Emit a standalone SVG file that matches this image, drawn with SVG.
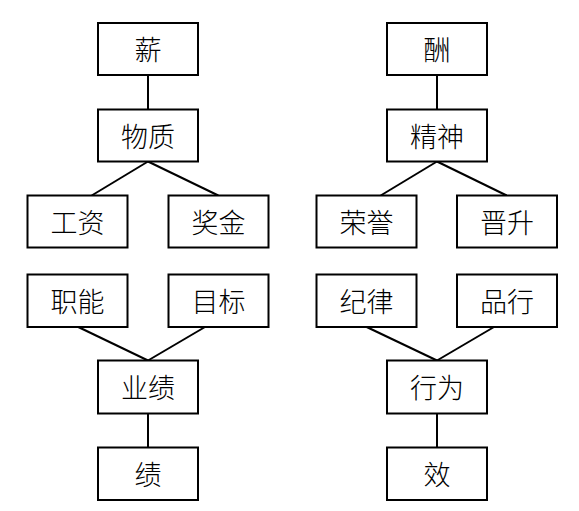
<svg xmlns="http://www.w3.org/2000/svg" width="579" height="511" viewBox="0 0 579 511">
<style>
.n rect{fill:#fff;stroke:#000;stroke-width:2}
.n text{font-family:"Noto Sans CJK SC",sans-serif;font-size:27px;font-weight:300;fill:#000;text-anchor:middle}
#edges line{stroke:#000;stroke-width:2}
</style>
<rect width="579" height="511" fill="#fff"/>
<g id="edges">
<line x1="148" y1="75" x2="148" y2="109"/>
<line x1="148" y1="161.5" x2="91.7" y2="195.5"/>
<line x1="148" y1="161.5" x2="218.3" y2="195.5"/>
<line x1="78.3" y1="327" x2="148" y2="360.5"/>
<line x1="205" y1="327" x2="148" y2="360.5"/>
<line x1="148" y1="413.5" x2="148" y2="447.5"/>
<line x1="437" y1="75" x2="437" y2="109"/>
<line x1="437" y1="161.5" x2="380.7" y2="195.5"/>
<line x1="437" y1="161.5" x2="506.7" y2="195.5"/>
<line x1="366.7" y1="327" x2="437" y2="360.5"/>
<line x1="494" y1="327" x2="437" y2="360.5"/>
<line x1="437" y1="413.5" x2="437" y2="447.5"/>
</g>
<g id="n1" class="n"><rect x="98" y="23" width="100" height="52"/><text x="148" y="60">薪</text></g>
<g id="n2" class="n"><rect x="98" y="109.5" width="100" height="52"/><text x="148" y="146.5">物质</text></g>
<g id="n3" class="n"><rect x="27.5" y="195.5" width="100" height="52"/><text x="77.5" y="232.5">工资</text></g>
<g id="n4" class="n"><rect x="168.5" y="195.5" width="100" height="52"/><text x="218.5" y="232.5">奖金</text></g>
<g id="n5" class="n"><rect x="27.5" y="274.5" width="100" height="52.5"/><text x="77.5" y="311.5">职能</text></g>
<g id="n6" class="n"><rect x="168.5" y="274.5" width="100" height="52.5"/><text x="218.5" y="311.5">目标</text></g>
<g id="n7" class="n"><rect x="98" y="360.5" width="100" height="53"/><text x="148" y="398">业绩</text></g>
<g id="n8" class="n"><rect x="98" y="447.5" width="100" height="52.5"/><text x="148" y="485">绩</text></g>
<g id="n9" class="n"><rect x="387" y="23" width="100" height="52"/><text x="437" y="60">酬</text></g>
<g id="n10" class="n"><rect x="387" y="109.5" width="100" height="52"/><text x="437" y="146.5">精神</text></g>
<g id="n11" class="n"><rect x="316.5" y="195.5" width="100" height="52"/><text x="366.5" y="232.5">荣誉</text></g>
<g id="n12" class="n"><rect x="457" y="195.5" width="100" height="52"/><text x="507" y="232.5">晋升</text></g>
<g id="n13" class="n"><rect x="316.5" y="274.5" width="100" height="52.5"/><text x="366.5" y="311.5">纪律</text></g>
<g id="n14" class="n"><rect x="457" y="274.5" width="100" height="52.5"/><text x="507" y="311.5">品行</text></g>
<g id="n15" class="n"><rect x="387" y="360.5" width="100" height="53"/><text x="437" y="398">行为</text></g>
<g id="n16" class="n"><rect x="387" y="447.5" width="100" height="52.5"/><text x="437" y="485">效</text></g>
</svg>
